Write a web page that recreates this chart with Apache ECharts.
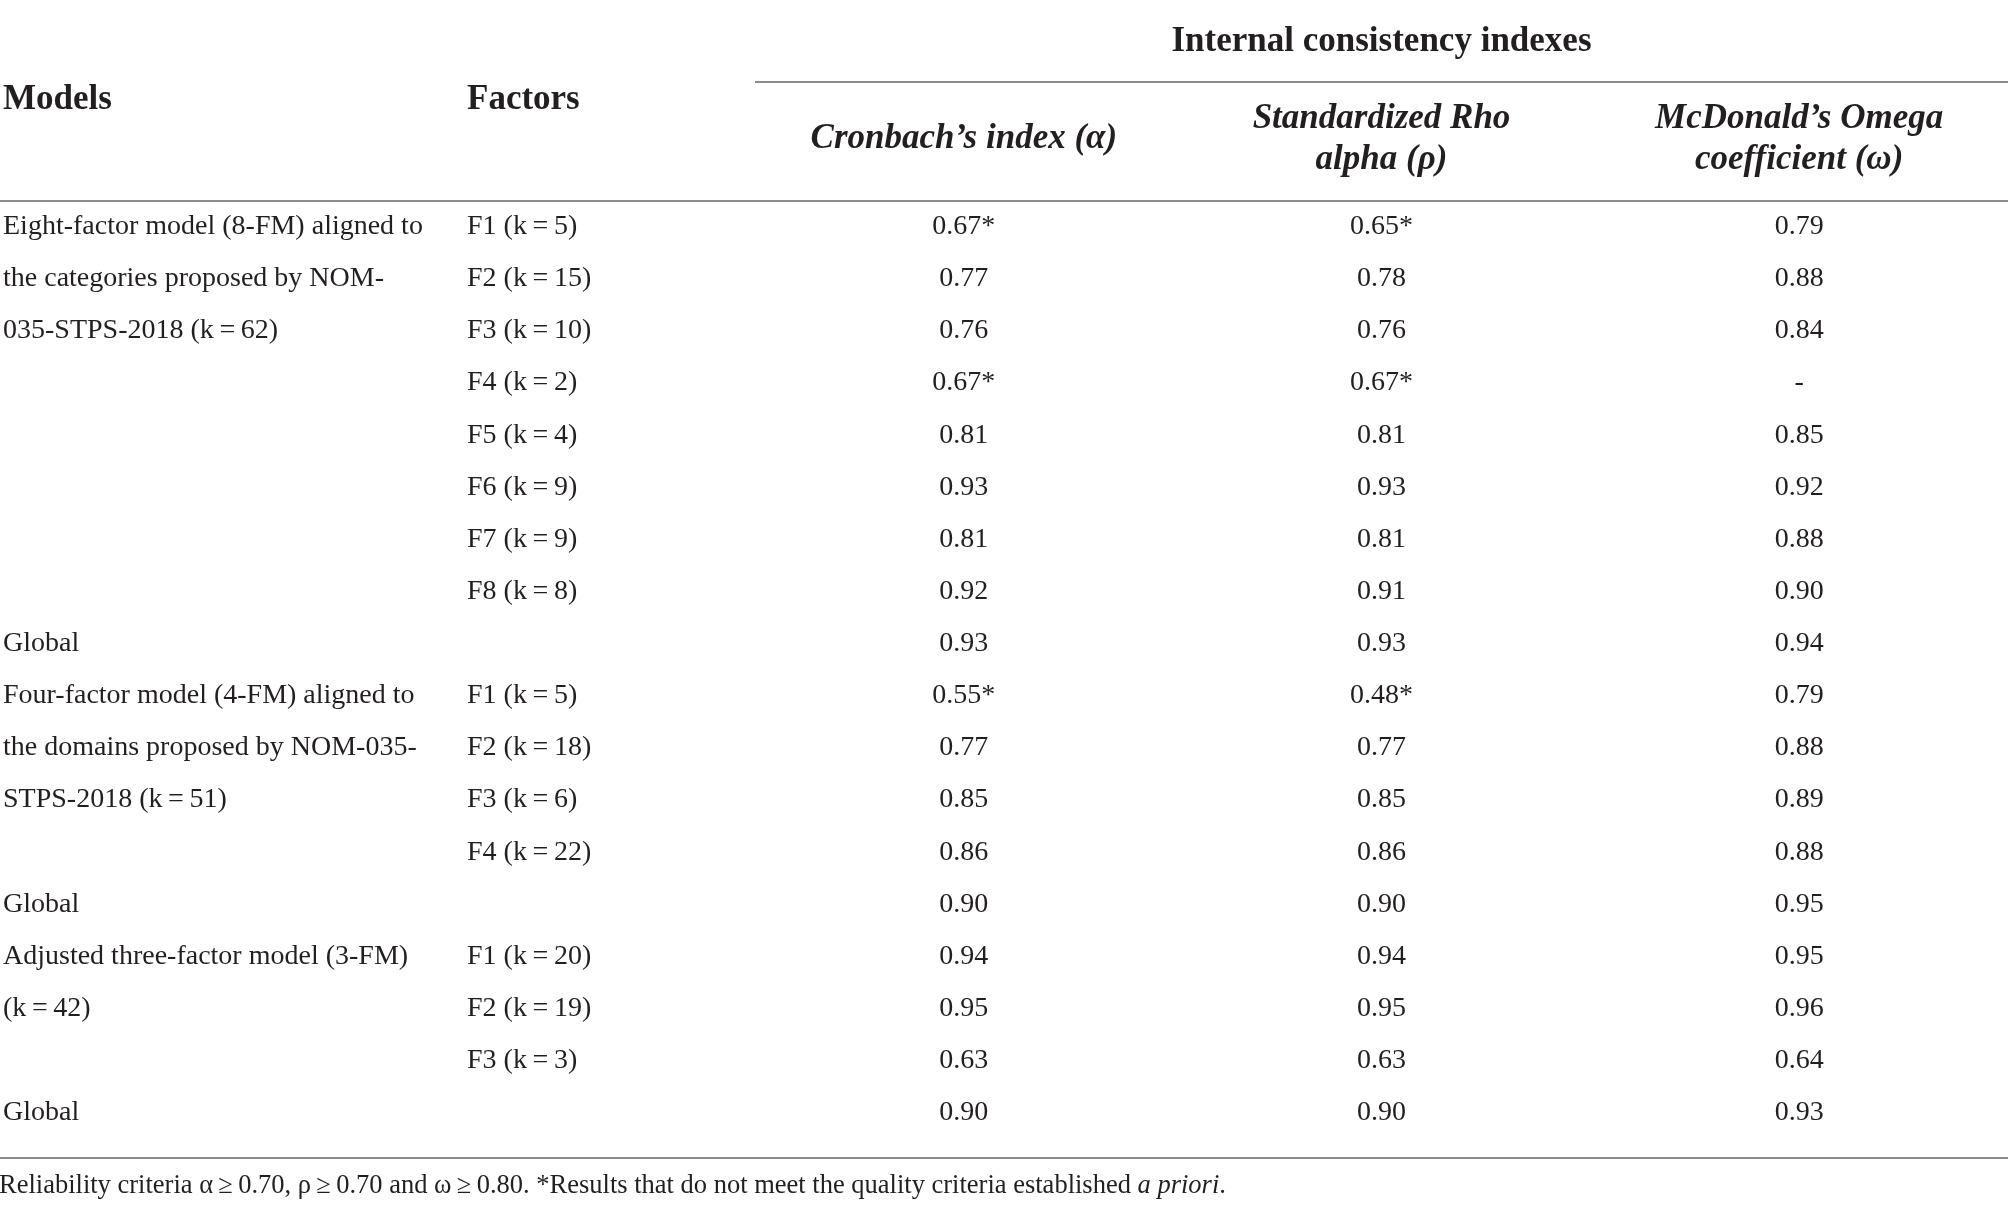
<!DOCTYPE html>
<html>
<head>
<meta charset="utf-8">
<title>Internal consistency indexes</title>
<script src="https://cdn.jsdelivr.net/npm/echarts@6/dist/echarts.min.js"></script>
<style>
html,body{margin:0;padding:0;background:#fff;}
#table{width:2008px;height:1213px;}
</style>
</head>
<body>
<div id="table"></div>
<script>
// table rows, one entry per printed line
var rowIds = ['1','2','3','4','5','6','7','8','9','10','11','12','13','14','15','16','17','18'];
var models = [
	'Eight-factor model (8-FM) aligned to',
	'the categories proposed by NOM-',
	'035-STPS-2018 (k\u2009=\u200962)',
	'', '', '', '', '',
	'Global',
	'Four-factor model (4-FM) aligned to',
	'the domains proposed by NOM-035-',
	'STPS-2018 (k\u2009=\u200951)',
	'',
	'Global',
	'Adjusted three-factor model (3-FM)',
	'(k\u2009=\u200942)',
	'',
	'Global'
];
var factors = [
	'F1 (k\u2009=\u20095)', 'F2 (k\u2009=\u200915)', 'F3 (k\u2009=\u200910)', 'F4 (k\u2009=\u20092)',
	'F5 (k\u2009=\u20094)', 'F6 (k\u2009=\u20099)', 'F7 (k\u2009=\u20099)', 'F8 (k\u2009=\u20098)',
	'',
	'F1 (k\u2009=\u20095)', 'F2 (k\u2009=\u200918)', 'F3 (k\u2009=\u20096)', 'F4 (k\u2009=\u200922)',
	'',
	'F1 (k\u2009=\u200920)', 'F2 (k\u2009=\u200919)', 'F3 (k\u2009=\u20093)',
	''
];
var textColumns = ['Models', 'Factors'];
var columns = ['Cronbach', 'Rho', 'Omega'];
var columnHeads = ['Cronbach\u2019s index (\u03b1)', 'Standardized Rho\nalpha (\u03c1)', 'McDonald\u2019s Omega\ncoefficient (\u03c9)'];
var groupHead = 'Internal consistency indexes';

var cronbach = [0.67, 0.77, 0.76, 0.67, 0.81, 0.93, 0.81, 0.92, 0.93, 0.55, 0.77, 0.85, 0.86, 0.90, 0.94, 0.95, 0.63, 0.90];
var rho      = [0.65, 0.78, 0.76, 0.67, 0.81, 0.93, 0.81, 0.91, 0.93, 0.48, 0.77, 0.85, 0.86, 0.90, 0.94, 0.95, 0.63, 0.90];
var omega    = [0.79, 0.88, 0.84, null, 0.85, 0.92, 0.88, 0.90, 0.94, 0.79, 0.88, 0.89, 0.88, 0.95, 0.95, 0.96, 0.64, 0.93];
// rows marked with * (below the quality criteria)
var cronbachFlag = [0, 3, 9];
var rhoFlag = [0, 3, 9];
var omegaFlag = [];

var note = 'Reliability criteria \u03b1\u2009\u2265\u20090.70, \u03c1\u2009\u2265\u20090.70 and \u03c9\u2009\u2265\u20090.80. *Results that do not meet the quality criteria established ';
var noteItalic = 'a priori';

var ink = '#231f20';
var rule = '#8c8c8c';
var serif = "'Liberation Serif', 'DejaVu Serif', serif";
var bodySize = 28;
var headSize = 35;
var noteSize = 26.5;

var gridTop = 200.6, gridHeight = 938.4;

function $each(arr, fn){
	for(var i = 0; i < arr.length; i++) fn(i, arr[i]);
}

function fmt(v, flagged){
	if(v == null) return '-';
	return v.toFixed(2) + (flagged ? '*' : '');
}

// cells of the two text columns
var textCells = [];
$each(models, function(i, t){ if(t) textCells.push({value:[0, i], text:t}); });
$each(factors, function(i, t){ if(t) textCells.push({value:[1, i], text:t}); });

// cells of the three index columns
var numCells = [];
var numSets = [[cronbach, cronbachFlag], [rho, rhoFlag], [omega, omegaFlag]];
$each(numSets, function(c, set){
	$each(set[0], function(i, v){
		numCells.push({value:[c, i], text:fmt(v, set[1].indexOf(i) >= 0)});
	});
});

function cellRenderer(cells, align){
	return function(params, api){
		var pt = api.coord([api.value(0), api.value(1)]);
		return {
			type: 'text',
			x: pt[0],
			y: pt[1],
			style: {
				text: cells[params.dataIndex].text,
				align: align,
				verticalAlign: 'middle',
				font: bodySize + 'px ' + serif,
				fill: ink
			}
		};
	};
}

var myChart = echarts.init(document.getElementById('table'), null, {renderer:'canvas'});
var option = {
	backgroundColor: '#fff',
	animation: false,
	grid: [
		{left: -1, width: 468, top: gridTop, height: gridHeight},
		{left: 755, width: 1260, top: gridTop, height: gridHeight}
	],
	xAxis: [{
		gridIndex: 0,
		type: 'category',
		data: textColumns,
		boundaryGap: false,
		position: 'top',
		axisLine: {show: false},
		axisTick: {show: false},
		splitLine: {show: false},
		axisLabel: {
			interval: 0,
			margin: gridTop - 100,
			align: 'left',
			verticalAlign: 'middle',
			fontFamily: serif,
			fontWeight: 'bold',
			fontSize: headSize,
			color: ink
		}
	}, {
		gridIndex: 1,
		type: 'category',
		data: columns,
		position: 'top',
		name: groupHead,
		nameLocation: 'middle',
		nameGap: gridTop - 42,
		nameTextStyle: {
			fontFamily: serif,
			fontWeight: 'bold',
			fontSize: headSize,
			color: ink,
			verticalAlign: 'middle'
		},
		axisLine: {show: false},
		axisTick: {show: false},
		splitLine: {show: false},
		axisLabel: {
			interval: 0,
			margin: gridTop - 139,
			verticalAlign: 'middle',
			lineHeight: 41,
			fontFamily: serif,
			fontStyle: 'italic',
			fontWeight: 'bold',
			fontSize: headSize,
			color: ink,
			formatter: function(val, idx){ return columnHeads[idx]; }
		}
	}],
	yAxis: [
		{gridIndex: 0, type: 'category', data: rowIds, inverse: true, show: false},
		{gridIndex: 1, type: 'category', data: rowIds, inverse: true, show: false}
	],
	series: [{
		type: 'custom',
		xAxisIndex: 0,
		yAxisIndex: 0,
		encode: {x: 0, y: 1},
		data: textCells,
		renderItem: cellRenderer(textCells, 'left')
	}, {
		type: 'custom',
		xAxisIndex: 1,
		yAxisIndex: 1,
		encode: {x: 0, y: 1},
		data: numCells,
		renderItem: cellRenderer(numCells, 'center')
	}],
	// table rules and the footnote
	graphic: [
		{type: 'line', shape: {x1: 755, y1: 82, x2: 2008, y2: 82}, style: {stroke: rule, lineWidth: 2}},
		{type: 'line', shape: {x1: 0, y1: 201, x2: 2008, y2: 201}, style: {stroke: rule, lineWidth: 2}},
		{type: 'line', shape: {x1: 0, y1: 1158, x2: 2008, y2: 1158}, style: {stroke: rule, lineWidth: 2}},
		{
			type: 'text',
			left: -1,
			top: 1173,
			style: {
				text: '{n|' + note + '}{i|' + noteItalic + '}{n|.}',
				rich: {
					n: {fontFamily: serif, fontSize: noteSize, fill: ink, color: ink},
					i: {fontFamily: serif, fontSize: noteSize, fontStyle: 'italic', fill: ink, color: ink}
				}
			}
		}
	]
};
myChart.setOption(option);
</script>
</body>
</html>
